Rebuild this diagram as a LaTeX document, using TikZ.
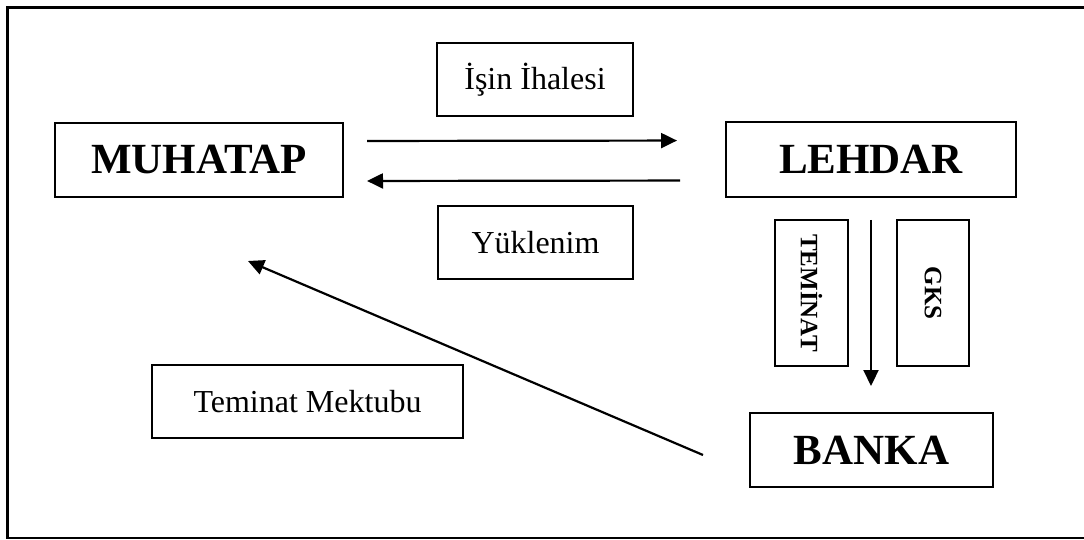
\documentclass[tikz,border=0pt]{standalone}
\usepackage{fontspec}
\setmainfont{Liberation Serif}
\usetikzlibrary{arrows.meta, positioning}

\begin{document}
\begin{tikzpicture}[x=1pt, y=-1pt, line width=2pt,
    kutu/.style={draw, inner sep=0pt, font=\fontsize{32}{36}\selectfont},
    taraf/.style={draw, inner sep=0pt, font=\fontsize{43}{48}\selectfont\bfseries},
    dikey/.style={draw, inner sep=0pt, rotate=-90, font=\fontsize{25}{30}\selectfont\bfseries},
    ok/.style={line width=2.2pt, -{Triangle[length=16pt, width=15pt]}}]
    \useasboundingbox (0,0) rectangle (1084,540);
    % frame
    \draw[line width=2.5pt] (1084,7.5) -- (7.5,7.5) -- (7.5,538) -- (1084,538);
    % parties
    \node[taraf, minimum width=288pt, minimum height=74pt] (muhatap) at (199,160) {MUHATAP};
    \node[taraf, minimum width=290pt, minimum height=75pt] (lehdar) at (871,159.5) {LEHDAR};
    \node[taraf, minimum width=243pt, minimum height=74pt] (banka) at (871.5,450) {BANKA};
    % labels
    \node[kutu, minimum width=196pt, minimum height=73pt] (ihale) at (535,80) {İşin İhalesi};
    \node[kutu, minimum width=195pt, minimum height=73pt] (yuklenim) at (535.5,242.5) {Yüklenim};
    \node[kutu, minimum width=311pt, minimum height=73pt] (mektup) at (307.5,401.5) {Teminat Mektubu};
    \node[dikey, minimum width=146pt, minimum height=73pt] (teminat) at (811.5,293) {TEMİNAT};
    \node[dikey, minimum width=146pt, minimum height=72pt] (gks) at (933,293) {GKS};
    % arrows
    \draw[ok, shorten <=23pt, shorten >=48pt] ([yshift=19pt]muhatap.east) -- ([yshift=19pt]lehdar.west);
    \draw[ok, shorten <=45pt, shorten >=23pt] ([yshift=-21pt]lehdar.west) -- ([yshift=-21pt]muhatap.east);
    \draw[ok, shorten <=22pt, shorten >=26pt] (lehdar.south) -- (lehdar.south |- banka.north);
    \coordinate (bankacikis) at (703,455);
    \coordinate (muhatapgiris) at (248,261);
    \draw[ok] (bankacikis) -- (muhatapgiris);
\end{tikzpicture}
\end{document}
